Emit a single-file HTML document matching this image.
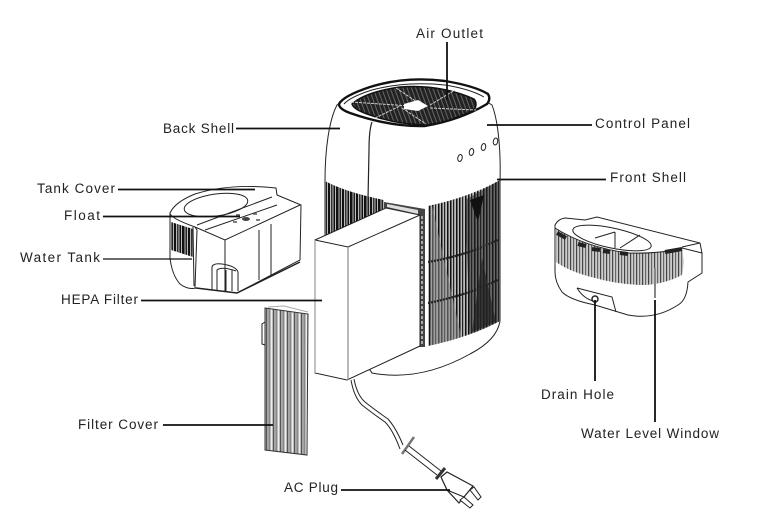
<!DOCTYPE html>
<html><head><meta charset="utf-8"><style>
html,body{margin:0;padding:0;background:#fff}
svg{display:block}
text{font-family:"Liberation Sans",sans-serif;font-size:13.5px;fill:#222}
.o{fill:#fff;stroke:#222;stroke-width:1}
.n{fill:none;stroke:#222;stroke-width:1}
.l{stroke:#111;stroke-width:1.8;fill:none}
</style></head><body>
<svg width="763" height="517" viewBox="0 0 763 517" xmlns="http://www.w3.org/2000/svg">
<defs>
<pattern id="s1" width="14" height="40" patternUnits="userSpaceOnUse">
<rect width="14" height="40" fill="#bbb"/>
<rect x="0" width="2.500" height="40" fill="#111"/><rect x="3.500" width="1.500" height="40" fill="#222"/><rect x="6" width="2" height="40" fill="#111"/><rect x="9" width="1.500" height="40" fill="#333"/><rect x="11.500" width="1.500" height="40" fill="#111"/>
</pattern>
<pattern id="s2" width="9" height="40" patternUnits="userSpaceOnUse">
<rect width="9" height="40" fill="#bbb"/>
<rect x="0" width="1.500" height="40" fill="#111"/><rect x="3" width="1.200" height="40" fill="#222"/><rect x="6" width="1.500" height="40" fill="#111"/>
</pattern>
<pattern id="s3" width="7" height="40" patternUnits="userSpaceOnUse">
<rect width="7" height="40" fill="#bbb"/>
<rect x="0" width="1.200" height="40" fill="#555"/><rect x="2.500" width="1.500" height="40" fill="#888"/><rect x="5" width="1" height="40" fill="#eee"/>
</pattern>
<pattern id="s4" width="6" height="40" patternUnits="userSpaceOnUse">
<rect width="6" height="40" fill="#ccc"/>
<rect x="0" width="1.200" height="40" fill="#444"/><rect x="3" width="1.200" height="40" fill="#666"/>
</pattern>
<pattern id="g1" width="4" height="6" patternUnits="userSpaceOnUse" patternTransform="rotate(-20)">
<rect width="4" height="6" fill="#222"/><rect width="1" height="6" fill="#666"/>
</pattern>
<clipPath id="rb"><path d="M428 206 Q470 197 500 180 L500 321 Q470 337 428 346Z"/></clipPath>
</defs>
<rect width="763" height="517" fill="#fff"/>

<!-- main body -->
<path class="o" d="M337 105 C329 120 325 150 325 181 L325 300 L372 373 Q420 382 470 354 Q497 340 500 321 L500 181 C501 150 498 120 492 105 Q420 60 337 105Z"/>
<path fill="url(#s1)" d="M325 181 Q345 192 384 200 L384 212 L325 238Z"/>
<path fill="url(#s2)" d="M428 206 Q470 197 500 180 L500 321 Q470 337 428 346Z"/>
<g clip-path="url(#rb)">
<path d="M432 205 L462 340 L430 348 Z" fill="#888" opacity=".55"/>
<path d="M465 200 L470 335 L500 322 L500 180 Z" fill="#222" opacity=".55"/>
<path d="M470 200 L478 222 L484 195Z" fill="#111"/>
<path d="M472 332 L482 258 L496 322Z" fill="#222" opacity=".7"/>
<path d="M428 262 Q465 256 498 240" stroke="#222" stroke-width="2.200" stroke-dasharray="2 1" fill="none"/>
<path d="M428 303 Q465 296 498 280" stroke="#222" stroke-width="2.200" stroke-dasharray="2 1" fill="none"/>
</g>
<path d="M372 122 Q369 130 369 150 L368 200" fill="none" stroke="#222" stroke-width="1.200"/>
<!-- top rim -->
<path fill="#fff" stroke="#111" stroke-width="2.400" d="M339 104 Q343 96 370 87 Q405 76 445 81 Q475 86 488 94 Q491 99 487 104 Q460 120 425 126 Q390 127 350 113 Q339 109 339 104Z"/>
<path class="n" stroke-width="1.500" d="M344 104 Q350 97 372 90 Q405 81 445 85 Q470 89 484 97"/>
<path fill="url(#g1)" stroke="#111" stroke-width="1.500" d="M352 104 Q365 92 400 87 Q440 84 474 99 Q478 104 474 110 Q445 124 424 125 Q395 124 370 115 Q354 110 352 104Z"/>
<path d="M351 102 L410 106 M375 118 L400 106 M396 88 L420 104 M430 105 L455 90 M430 108 L476 110 M402 108 L426 124" stroke="#ccc" stroke-width="1" fill="none" stroke-dasharray="3 1"/>
<path d="M404 104 L418 100 L428 106 L418 111 L404 109Z" fill="#fff"/>
<!-- buttons -->
<ellipse class="n" cx="460" cy="158" rx="2.200" ry="3.500" transform="rotate(12 460 158)"/>
<ellipse class="n" cx="471.500" cy="152" rx="2.200" ry="3.500" transform="rotate(12 471.500 152)"/>
<ellipse class="n" cx="483.500" cy="147" rx="2.200" ry="3.500" transform="rotate(12 483.500 147)"/>
<ellipse class="n" cx="495.500" cy="141.500" rx="2.200" ry="3.500" transform="rotate(12 495.500 141.500)"/>
<!-- frame strip -->
<path d="M384 202 L425 209 L425 347 L419 347 L419 216 L384 208Z" fill="#444"/>
<path d="M387 204 L418 210 L418 214 L387 207Z" fill="#ddd"/>
<path d="M422 216 V345" stroke="#ccc" stroke-width="1.500" stroke-dasharray="3 2"/>
<path d="M426.500 206 V346" stroke="#fff" stroke-width="2"/>

<!-- HEPA filter -->
<path class="o" d="M315 240 L386 208 L420 215 L420 346 L347 380 L315 373Z"/>
<path d="M315 240 L348 247 L420 215" class="n"/>
<path d="M348 247 V380" stroke="#888" stroke-width="1.200"/>
<path d="M315 240 V373" stroke="#999" stroke-width="1.200"/>

<!-- cord -->
<path class="n" d="M354 379 Q357 395 365 402 Q375 410 388 419 Q396 428 403 445"/>
<path class="n" d="M351 380 Q354 397 362 405 Q372 413 385 422 Q393 430 400 449"/>
<path d="M402 454 L414 437" stroke="#777" stroke-width="2.500"/>
<path class="n" d="M405 450 L437 475 M409 446 L441 471"/>
<path d="M436 479 L445 468" stroke="#333" stroke-width="3"/>
<path fill="#fff" stroke="#222" stroke-width="1.200" d="M441 477 L447 472 L473 486 L459 503 L447 490Z"/>
<path class="n" d="M447 490 L464 497"/>
<path fill="#fff" stroke="#222" d="M470 490 L474 487 L481 497 L478 500Z"/>
<path fill="#fff" stroke="#222" d="M460 500 L464 497 L473 505 L470 508Z"/>

<!-- filter cover -->
<path fill="url(#s3)" stroke="#333" d="M265 308 L308 314 L307 455 L265 450Z"/>
<path class="n" d="M265 322 L262 324 V344 L265 345"/>
<path d="M268 307 L284 306 L308 312" stroke="#aaa" fill="none"/>

<!-- water tank left -->
<path class="o" d="M170 222 L170 258 Q172 275 180 284 Q188 290 196 288 L237 293 L300 260 L301 205 L277 195 L276 188 Q230 183 195 194 Q175 202 170 213Z"/>
<path fill="url(#s1)" d="M171 222 L193 229 L193 257 L171 250Z"/>
<path class="n" d="M170 213 Q170 218 195 227 L225 240 L300 205"/>
<ellipse class="n" cx="216" cy="205" rx="32" ry="11" transform="rotate(-8 216 205)"/>
<path class="n" d="M195 227 L197 230 L195 288 M225 240 V292 M193 227 L194 286"/>
<path class="n" d="M197 225 L272 197 M205 230 L277 205"/>
<path class="n" d="M259 230 V280 M271 224 V275"/>
<path class="n" d="M212 290 V267 Q213 263 222 264 Q236 266 238 272 V291 M217 291 V270 Q222 266 236 271 M226 270 V292 M232 270 V291"/>
<ellipse cx="246" cy="219" rx="4" ry="2" fill="#444"/>
<path d="M233 222 h4 M236 215 h4 M253 214 h4 M256 220 h4" stroke="#555" stroke-width="1.500"/>
<path d="M196 288 L237 293 L300 262" stroke="#222" stroke-width="1.500" fill="none"/>

<!-- water tank right -->
<path class="o" d="M555 225 Q558 219 565 218 L585 220 L597 217 L700 243 L702 253 L702 273 L688 282 Q687 300 678 305 Q655 320 628 315 L595 305 Q570 300 562 292 Q555 282 555 272Z"/>
<path fill="url(#s4)" d="M556 229 Q585 247 628 253 Q660 254 682 248 L684 262 L682 275 Q665 284 645 285 Q620 285 595 278 Q570 272 556 262Z"/>
<path d="M557 233 L566 238 M578 244 L586 246 M592 249 L600 250 M603 251 L610 252 M620 253 L628 254 M665 252 L682 249" stroke="#222" stroke-width="4" fill="none"/>
<path class="n" d="M555 228 Q585 247 628 253 Q660 254 682 248 L702 253 M682 247 L700 243"/>
<ellipse class="n" cx="612" cy="238" rx="40" ry="10" transform="rotate(12 612 238)"/>
<path class="n" d="M615 248 L615 232 M620 248 L640 235 M595 238 L615 232"/>
<path class="n" d="M577 288 Q583 298 593 301 M577 288 L612 297 L616 312"/>
<circle cx="595" cy="299" r="3" fill="#fff" stroke="#222" stroke-width="1.500"/>
<path d="M655 268 V298" stroke="#888" stroke-width="2"/>

<!-- leader lines -->
<path class="l" d="M447 42 V100"/>
<path class="l" d="M236 128.500 H340"/>
<path class="l" d="M487 125 H592"/>
<path class="l" d="M497 179.500 H606"/>
<path class="l" d="M118 189.500 H255"/>
<path class="l" d="M103 216.500 H240"/>
<path d="M103 259 H192" stroke="#111" stroke-width="1.200" fill="none"/>
<path class="l" d="M141 300.500 H322"/>
<path class="l" d="M163 425 H273"/>
<path class="l" d="M341 490 H450"/>
<path class="l" d="M595 300 V381"/>
<path class="l" d="M655 300 V422"/>

<!-- labels -->
<text x="416" y="38" textLength="67" lengthAdjust="spacing">Air Outlet</text>
<text x="163" y="133" textLength="71" lengthAdjust="spacing">Back Shell</text>
<text x="595" y="128" textLength="95" lengthAdjust="spacing">Control Panel</text>
<text x="610" y="182" textLength="76" lengthAdjust="spacing">Front Shell</text>
<text x="37" y="193" textLength="78" lengthAdjust="spacing">Tank Cover</text>
<text x="64" y="220" textLength="36" lengthAdjust="spacing">Float</text>
<text x="20" y="262" textLength="80" lengthAdjust="spacing">Water Tank</text>
<text x="61" y="304" textLength="77" lengthAdjust="spacing">HEPA Filter</text>
<text x="78" y="429" textLength="80" lengthAdjust="spacing">Filter Cover</text>
<text x="284" y="492" textLength="54" lengthAdjust="spacing">AC Plug</text>
<text x="541" y="399" textLength="73" lengthAdjust="spacing">Drain Hole</text>
<text x="581" y="438" textLength="138" lengthAdjust="spacing">Water Level Window</text>
</svg>
</body></html>
